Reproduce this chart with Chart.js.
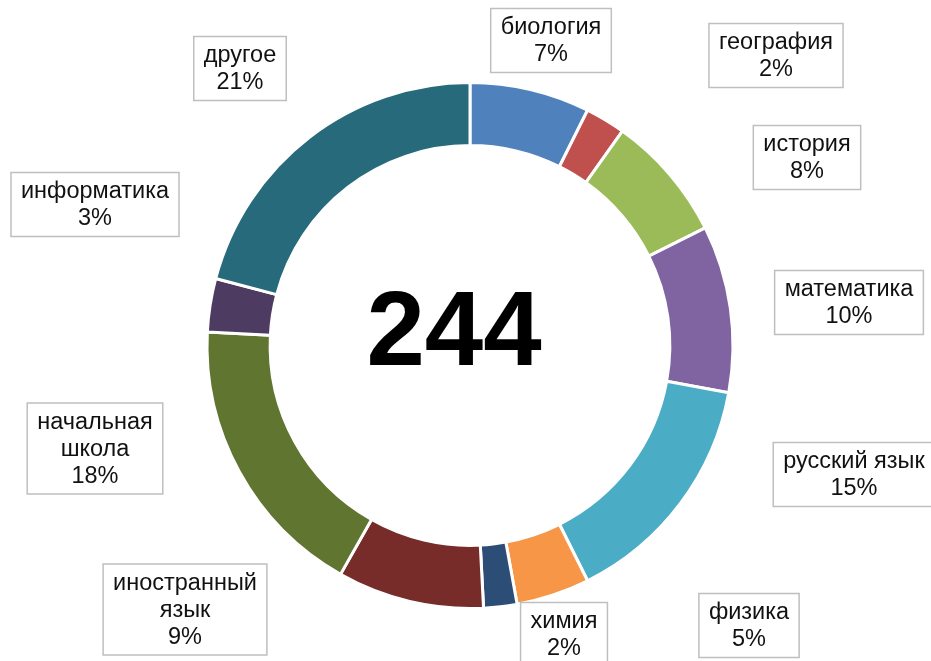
<!DOCTYPE html>
<html>
<head>
<meta charset="utf-8">
<script src="https://cdn.jsdelivr.net/npm/chart.js@4.4.0/dist/chart.umd.min.js"></script>
<style>
html, body { margin: 0; padding: 0; background: #fff; }
canvas { display: block; }
</style>
</head>
<body>
<canvas id="subjectsChart" width="931" height="661"></canvas>
<script>
const categories = ['биология', 'география', 'история', 'математика', 'русский язык', 'физика',
    'химия', 'иностранный язык', 'начальная школа', 'информатика', 'другое'];
const counts = [18, 6, 19, 25, 36, 11, 5, 22, 43, 8, 51];
const colors = ['#4F81BD', '#C0504D', '#9BBB59', '#8064A2', '#4BACC6', '#F79646',
    '#2C4D75', '#772C2A', '#5F7530', '#4D3B62', '#276A7C'];

// label boxes were hand placed in the original, so keep their offsets from the ring centre
const labelOffsets = [[81, -305], [306, -290], [337, -188], [379, -43], [384, 129], [279, 280],
    [94, 289], [-285, 264], [-375, 103], [-375, -141], [-230, -277]];
const wrapped = ['иностранный язык', 'начальная школа'];

const total = counts.reduce((a, b) => a + b, 0);
const FONT = '"Liberation Sans", Arial, sans-serif';

const boxLabels = {
    id: 'boxLabels',
    afterDatasetsDraw(chart) {
        const ctx = chart.ctx;
        const arc = chart.getDatasetMeta(0).data[0];
        const cx = arc.x, cy = arc.y;

        ctx.save();
        ctx.font = '23.5px ' + FONT;
        ctx.textAlign = 'center';
        ctx.textBaseline = 'middle';
        const lh = 27;
        categories.forEach((name, i) => {
            const pct = Math.round(counts[i] / total * 100) + '%';
            const lines = (wrapped.includes(name) ? name.split(' ') : [name]).concat(pct);
            const w = Math.max(...lines.map(l => ctx.measureText(l).width)) + 20;
            const h = lines.length * lh + 10;
            const x = cx + labelOffsets[i][0];
            const y = cy + labelOffsets[i][1];
            ctx.fillStyle = '#fff';
            ctx.fillRect(x - w / 2, y - h / 2, w, h);
            ctx.strokeStyle = '#bfbfbf';
            ctx.lineWidth = 1.5;
            ctx.strokeRect(x - w / 2, y - h / 2, w, h);
            ctx.fillStyle = '#111';
            lines.forEach((l, k) => {
                ctx.fillText(l, x, y - h / 2 + 5 + lh * (k + 0.5) + 1);
            });
        });

        ctx.font = 'bold 105px ' + FONT;
        ctx.fillStyle = '#000';
        ctx.fillText(String(total), cx - 16, cy - 9);
        ctx.restore();
    }
};

new Chart(document.getElementById('subjectsChart').getContext('2d'), {
    type: 'doughnut',
    data: {
        labels: categories,
        datasets: [{
            data: counts,
            backgroundColor: colors,
            borderColor: '#fff',
            borderWidth: 3
        }]
    },
    options: {
        responsive: false,
        animation: false,
        devicePixelRatio: 1,
        cutout: '76%',
        layout: { padding: { top: 81, bottom: 51, left: 9, right: 0 } },
        plugins: {
            legend: { display: false },
            tooltip: { enabled: false }
        }
    },
    plugins: [boxLabels]
});
</script>
</body>
</html>
